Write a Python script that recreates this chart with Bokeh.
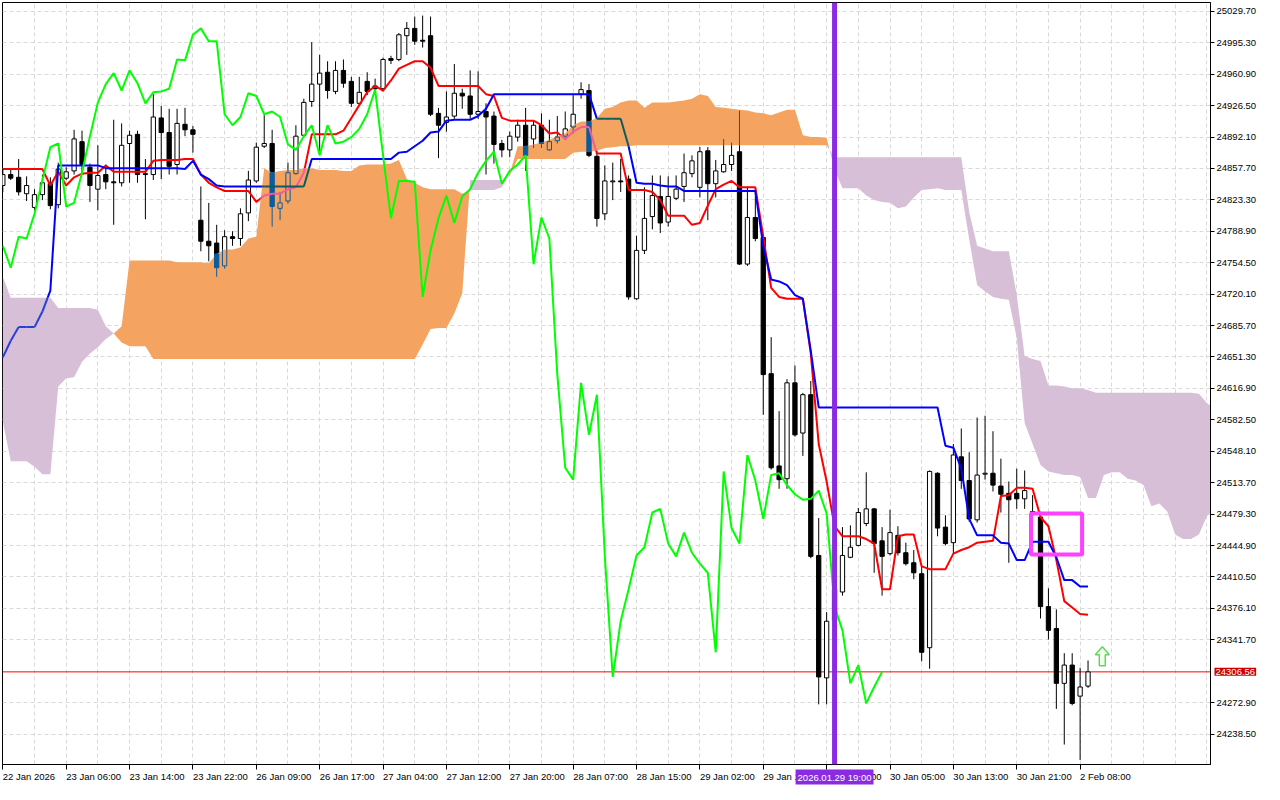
import numpy as np
from bokeh.plotting import figure
from bokeh.models import Range1d, FixedTicker, PrintfTickFormatter, Label, Span
from bokeh.embed import file_html
from bokeh.resources import INLINE

# ------------------------------------------------------------------ data
open_ = [24839, 24851, 24848, 24830, 24815, 24829, 24841, 24818, 24847, 24855,
         24887, 24859, 24835, 24851, 24843, 24842, 24885, 24895, 24852, 24851,
         24913, 24897, 24862, 24906, 24900, 24801, 24778, 24776, 24751, 24783,
         24781, 24809, 24844, 24882, 24885, 24814, 24822, 24852, 24894, 24931,
         24950, 24963, 24942, 24965, 24953, 24929, 24953, 24948, 24945, 24978,
         24977, 25003, 25011, 24998, 25003, 24918, 24908, 24915, 24940, 24937,
         24917, 24920, 24915, 24885, 24878, 24892, 24905, 24890, 24905, 24878,
         24888, 24893, 24903, 24939, 24943, 24871, 24808, 24843, 24844, 24846,
         24715, 24768, 24805, 24827, 24799, 24825, 24838, 24852, 24837, 24877,
         24841, 24854, 24862, 24876, 24753, 24804, 24782, 24633, 24532, 24518,
         24623, 24568, 24610, 24434, 24300, 24363, 24394, 24432, 24445, 24469,
         24485, 24450, 24436, 24456, 24437, 24426, 24414, 24333, 24524, 24465,
         24448, 24542, 24516, 24473, 24523, 24524, 24510, 24502, 24502, 24496,
         24482, 24476, 24378, 24354, 24294, 24314, 24280, 24291]
high = [24857, 24858, 24868, 24849, 24835, 24851, 24848, 24864, 24859, 24900,
        24899, 24863, 24883, 24862, 24911, 24907, 24899, 24899, 24868, 24939,
        24926, 24923, 24923, 24924, 24904, 24838, 24820, 24796, 24790, 24789,
        24814, 24855, 24886, 24916, 24900, 24832, 24864, 24905, 24934, 24996,
        24982, 24975, 24975, 24977, 24958, 24958, 24963, 24956, 24979, 24981,
        25006, 25018, 25024, 25025, 25024, 24924, 24942, 24972, 24945, 24965,
        24964, 24929, 24920, 24889, 24898, 24911, 24924, 24910, 24918, 24911,
        24915, 24920, 24938, 24952, 24950, 24877, 24861, 24864, 24868, 24850,
        24784, 24837, 24850, 24850, 24849, 24850, 24874, 24872, 24881, 24881,
        24867, 24890, 24886, 24921, 24838, 24837, 24786, 24673, 24592, 24627,
        24642, 24612, 24625, 24475, 24372, 24407, 24465, 24467, 24486, 24525,
        24486, 24465, 24484, 24466, 24448, 24440, 24423, 24527, 24525, 24478,
        24556, 24573, 24547, 24585, 24587, 24570, 24540, 24515, 24529, 24527,
        24500, 24482, 24398, 24375, 24327, 24327, 24311, 24319]
low = [24832, 24845, 24828, 24822, 24812, 24823, 24813, 24814, 24845, 24851,
       24851, 24821, 24812, 24835, 24796, 24838, 24842, 24842, 24802, 24845,
       24846, 24851, 24851, 24893, 24875, 24767, 24756, 24739, 24748, 24773,
       24773, 24800, 24842, 24880, 24794, 24801, 24819, 24851, 24892, 24925,
       24873, 24934, 24939, 24946, 24925, 24926, 24938, 24939, 24942, 24972,
       24975, 24982, 24993, 24990, 24915, 24869, 24898, 24912, 24923, 24912,
       24912, 24851, 24863, 24870, 24870, 24887, 24855, 24880, 24880, 24877,
       24885, 24889, 24896, 24934, 24870, 24794, 24801, 24823, 24832, 24714,
       24714, 24764, 24791, 24787, 24794, 24823, 24821, 24848, 24826, 24801,
       24826, 24853, 24855, 24752, 24751, 24778, 24588, 24528, 24507, 24507,
       24564, 24543, 24431, 24271, 24271, 24354, 24390, 24431, 24444, 24466,
       24415, 24390, 24434, 24434, 24423, 24408, 24318, 24310, 24455, 24445,
       24436, 24507, 24471, 24470, 24517, 24504, 24481, 24426, 24485, 24485,
       24477, 24365, 24342, 24266, 24227, 24270, 24210, 24289]
close_ = [24851, 24847, 24832, 24839, 24829, 24842, 24817, 24857, 24854, 24890,
          24862, 24839, 24850, 24843, 24842, 24883, 24894, 24851, 24851, 24914,
          24897, 24860, 24907, 24900, 24895, 24778, 24773, 24749, 24783, 24781,
          24808, 24845, 24881, 24885, 24816, 24820, 24853, 24893, 24930, 24950,
          24962, 24943, 24965, 24951, 24929, 24941, 24942, 24945, 24977, 24976,
          25004, 25011, 24997, 24997, 24917, 24905, 24914, 24940, 24937, 24917,
          24920, 24914, 24884, 24878, 24893, 24905, 24872, 24905, 24885, 24887,
          24892, 24901, 24917, 24944, 24872, 24803, 24844, 24844, 24843, 24717,
          24768, 24803, 24828, 24798, 24827, 24835, 24853, 24866, 24876, 24841,
          24855, 24862, 24872, 24753, 24804, 24781, 24632, 24530, 24517, 24623,
          24566, 24610, 24433, 24301, 24362, 24397, 24434, 24443, 24481, 24485,
          24447, 24433, 24459, 24437, 24425, 24415, 24328, 24526, 24464, 24447,
          24544, 24516, 24474, 24522, 24524, 24511, 24501, 24495, 24496, 24505,
          24480, 24378, 24352, 24294, 24314, 24272, 24290, 24306.56]

# Ichimoku lines (one value per bar)
tenkan = [24857, 24857, 24857, 24857, 24857, 24857, 24839, 24854, 24839, 24848,
          24852, 24853, 24853, 24861, 24854, 24854, 24854, 24854, 24854, 24866,
          24867, 24867, 24867, 24868, 24868, 24851, 24842, 24837, 24833, 24833,
          24833, 24833, 24821, 24828, 24830, 24830, 24835, 24837, 24853, 24895,
          24895, 24895, 24895, 24899, 24913, 24927, 24941, 24948, 24943, 24954,
          24967, 24971, 24975, 24975, 24968, 24948, 24948, 24948, 24948, 24948,
          24948, 24939, 24937, 24913, 24910, 24910, 24910, 24910, 24905, 24896,
          24897, 24890, 24898, 24903, 24903, 24874, 24874, 24874, 24874, 24834,
          24834, 24834, 24832, 24823, 24806, 24806, 24806, 24796, 24798, 24817,
          24835, 24840, 24844, 24837, 24837, 24837, 24783, 24727, 24717, 24715,
          24715, 24715, 24655, 24556, 24515, 24466, 24455, 24455, 24455, 24452,
          24447, 24397, 24397, 24455, 24457, 24457, 24422, 24419, 24419, 24419,
          24436, 24440, 24443, 24448, 24449, 24450, 24499, 24500, 24508, 24508,
          24507, 24476, 24466, 24429, 24384, 24377, 24370, 24369]
kijun = [24651, 24669, 24684, 24684, 24684, 24701, 24724, 24861, 24861, 24861,
         24861, 24861, 24861, 24858, 24858, 24858, 24858, 24858, 24858, 24858,
         24858, 24858, 24858, 24857, 24866, 24851, 24846, 24839, 24838, 24838,
         24838, 24838, 24838, 24838, 24838, 24838, 24838, 24838, 24838, 24868,
         24868, 24868, 24868, 24868, 24868, 24868, 24868, 24868, 24868, 24868,
         24875, 24876, 24882, 24888, 24897, 24898, 24910, 24911, 24911, 24911,
         24915, 24923, 24939, 24939, 24939, 24939, 24939, 24939, 24939, 24939,
         24939, 24939, 24939, 24939, 24939, 24912, 24912, 24912, 24912, 24882,
         24842, 24841, 24841, 24839, 24838, 24838, 24833, 24833, 24833, 24833,
         24833, 24833, 24833, 24833, 24833, 24833, 24773, 24736, 24734, 24730,
         24719, 24715, 24658, 24596, 24596, 24596, 24596, 24596, 24596, 24596,
         24596, 24596, 24596, 24596, 24596, 24596, 24596, 24596, 24596, 24554,
         24552, 24529, 24474, 24456, 24456, 24456, 24448, 24447, 24429, 24429,
         24449, 24449, 24449, 24432, 24407, 24407, 24400, 24400]
# Senkou spans as drawn (already displaced 26 bars ahead), bars 0..153
span_a = [24581, 24537, 24537, 24537, 24531, 24523, 24523, 24619, 24628, 24629,
          24646, 24655, 24662, 24671, 24677, 24685, 24757, 24757, 24757, 24757,
          24757, 24757, 24755, 24755, 24755, 24755, 24754, 24764, 24769, 24769,
          24771, 24781, 24783, 24858, 24853, 24855, 24856, 24856, 24858, 24858,
          24856, 24856, 24856, 24855, 24855, 24861, 24862, 24862, 24862, 24863,
          24867, 24846, 24842, 24837, 24835, 24835, 24835, 24835, 24830, 24834,
          24834, 24834, 24834, 24837, 24852, 24882, 24882, 24884, 24886, 24889,
          24893, 24896, 24905, 24909, 24909, 24913, 24923, 24925, 24930, 24932,
          24932, 24924, 24930, 24930, 24930, 24931, 24932, 24934, 24939, 24937,
          24925, 24924, 24923, 24922, 24921, 24919, 24918, 24916, 24919, 24922,
          24922, 24894, 24892, 24892, 24891, 24856, 24836, 24836, 24836, 24828,
          24823, 24821, 24820, 24814, 24816, 24826, 24834, 24835, 24836, 24834,
          24834, 24834, 24780, 24730, 24723, 24717, 24715, 24714, 24672, 24579,
          24556, 24533, 24526, 24524, 24522, 24522, 24520, 24497, 24497, 24522,
          24525, 24525, 24518, 24516, 24511, 24488, 24491, 24482, 24457, 24452,
          24452, 24457, 24477, 24485]
span_b = [24739, 24716, 24716, 24716, 24716, 24716, 24716, 24705, 24705, 24705,
          24705, 24705, 24703, 24685, 24677, 24667, 24663, 24663, 24663, 24649,
          24649, 24649, 24649, 24649, 24649, 24649, 24649, 24649, 24649, 24649,
          24649, 24649, 24649, 24649, 24649, 24649, 24649, 24649, 24649, 24649,
          24649, 24649, 24649, 24649, 24649, 24649, 24649, 24649, 24649, 24649,
          24649, 24649, 24649, 24665, 24682, 24683, 24683, 24699, 24721, 24845,
          24845, 24845, 24845, 24845, 24850, 24868, 24868, 24868, 24868, 24868,
          24868, 24868, 24875, 24876, 24876, 24877, 24880, 24881, 24882, 24882,
          24883, 24883, 24883, 24883, 24883, 24883, 24883, 24883, 24883, 24883,
          24883, 24883, 24883, 24883, 24883, 24883, 24883, 24883, 24883, 24883,
          24883, 24883, 24883, 24883, 24883, 24870, 24870, 24870, 24870, 24870,
          24870, 24870, 24870, 24870, 24870, 24870, 24870, 24870, 24870, 24870,
          24870, 24870, 24810, 24773, 24770, 24767, 24767, 24767, 24719, 24652,
          24649, 24647, 24620, 24620, 24619, 24617, 24617, 24615, 24612, 24612,
          24612, 24612, 24612, 24612, 24612, 24612, 24612, 24612, 24612, 24612,
          24612, 24611, 24601, 24594]
CHIKOU_SHIFT = 26   # chikou span = close plotted 26 bars back

time_label_bars = [0, 8, 16, 24, 32, 40, 48, 56, 64, 72, 80, 88, 96, 104, 112, 120, 128, 136]
time_labels = ["22 Jan 2026", "23 Jan 06:00", "23 Jan 14:00", "23 Jan 22:00", "26 Jan 09:00",
               "26 Jan 17:00", "27 Jan 04:00", "27 Jan 12:00", "27 Jan 20:00", "28 Jan 07:00",
               "28 Jan 15:00", "29 Jan 02:00", "29 Jan 10:00", "29 Jan 18:00", "30 Jan 05:00",
               "30 Jan 13:00", "30 Jan 21:00", "2 Feb 08:00"]
price_ticks = [25029.70, 24995.30, 24960.90, 24926.50, 24892.10, 24857.70, 24823.30, 24788.90,
               24754.50, 24720.10, 24685.70, 24651.30, 24616.90, 24582.50, 24548.10, 24513.70,
               24479.30, 24444.90, 24410.50, 24376.10, 24341.70, 24272.90, 24238.50]
grid_bars = [4, 8, 12, 16, 20, 24, 28, 32, 36, 40, 44, 48, 52, 56, 60, 64, 68, 72, 76, 80,
             84, 88, 92, 96, 100, 104, 108, 112, 116, 120, 124, 128, 132, 136, 140, 144, 148, 152]
bid_price = 24306.56
vline_bar = 105
vline_text = "2026.01.29 19:00"
box_left, box_right, box_bottom, box_top = 129.8, 136.25, 24435.0, 24480.0
arrow_bar, arrow_price = 138.8, 24334.0

# ------------------------------------------------------------------ style / layout
FRAME_W, FRAME_H = 1208, 762
X0, X1 = -0.04, 152.46
Y0, Y1 = 24205.15, 25039.35
FONT, FS = "Liberation Sans", "9.5px"
ORANGE, THISTLE = "#f4a460", "#d8bfd8"
HALF = 0.27


def xor_on(color, cloud):
    a = int(color[1:], 16)
    b = int(cloud[1:], 16) ^ 0xFFFFFF
    return "#%06x" % (a ^ b)


def lin_iv(g0, g1):
    if g0 >= 0 and g1 >= 0:
        return (0.0, 1.0)
    if g0 < 0 and g1 < 0:
        return None
    t = g0 / (g0 - g1)
    return (0.0, t) if g0 >= 0 else (t, 1.0)


p = figure(frame_width=FRAME_W, frame_height=FRAME_H,
           x_range=Range1d(X0, X1), y_range=Range1d(Y0, Y1),
           y_axis_location="right", output_backend="svg", toolbar_location=None,
           min_border_left=2, min_border_top=2, min_border_right=54, min_border_bottom=20,
           background_fill_color="white", border_fill_color="white")
p.outline_line_color = "black"
p.outline_line_width = 1

# axes
p.yaxis.ticker = FixedTicker(ticks=price_ticks)
p.yaxis.formatter = PrintfTickFormatter(format="%.2f")
p.yaxis.major_tick_out = 4
p.yaxis.major_tick_in = 0
p.yaxis.minor_tick_out = 0
p.yaxis.minor_tick_in = 0
p.yaxis.major_label_standoff = 2
p.yaxis.major_label_text_font = FONT
p.yaxis.major_label_text_font_size = FS
p.yaxis.major_label_text_color = "black"
p.yaxis.axis_line_color = "black"

p.xaxis.ticker = FixedTicker(ticks=time_label_bars)
p.xaxis.major_tick_out = 5
p.xaxis.major_tick_in = 0
p.xaxis.minor_tick_out = 0
p.xaxis.minor_tick_in = 0
p.xaxis.major_label_text_color = None
p.xaxis.major_label_standoff = 0
p.xaxis.axis_line_color = "black"

p.xgrid.ticker = FixedTicker(ticks=grid_bars)
p.ygrid.ticker = FixedTicker(ticks=price_ticks)
for g in (p.xgrid, p.ygrid):
    g.grid_line_color = "#d9d9d9"
    g.grid_line_dash = "4 3"
    g.grid_line_width = 1

# bid line (behind candles)
p.add_layout(Span(location=bid_price, dimension="width", line_color="#ff0000",
                  line_width=1, level="underlay"))

o = np.array(open_, float)
h = np.array(high, float)
l = np.array(low, float)
c = np.array(close_, float)
A = np.array(span_a, float)
B = np.array(span_b, float)
n = len(c)
idx = np.arange(n)
bull = c >= o
bb_ = np.minimum(o, c)
bt_ = np.maximum(o, c)

# candles
p.segment(x0=idx, y0=l, x1=idx, y1=h, line_color="black", line_width=1)
p.quad(left=idx - HALF, right=idx + HALF, bottom=bb_, top=bt_,
       fill_color=["white" if b else "black" for b in bull],
       line_color="black", line_width=1)

# tenkan / kijun
p.line(idx, tenkan, line_color="#ff0000", line_width=2)
p.line(idx, kijun, line_color="#0000ff", line_width=2)

# cloud
cx, ca, cb = [], [], []
for i in range(len(A)):
    cx.append(float(i)); ca.append(A[i]); cb.append(B[i])
    if i + 1 < len(A):
        d0, d1 = A[i] - B[i], A[i + 1] - B[i + 1]
        if d0 * d1 < 0:
            t = d0 / (d0 - d1)
            v = A[i] + t * (A[i + 1] - A[i])
            cx.append(i + t); ca.append(v); cb.append(v)
ca = np.array(ca); cb = np.array(cb)
ctop = np.maximum(ca, cb)
p.varea(x=cx, y1=cb, y2=ctop, fill_color=ORANGE)
p.varea(x=cx, y1=ca, y2=ctop, fill_color=THISTLE)

# parts of candles / lines that lie inside the cloud (MT4 xor look)
qd = dict(left=[], right=[], bottom=[], top=[], color=[])
sg = dict(x0=[], y0=[], x1=[], y1=[], color=[])
for i in range(n):
    lo, hi = min(A[i], B[i]), max(A[i], B[i])
    cc = ORANGE if A[i] >= B[i] else THISTLE
    k = xor_on("#000000", cc)
    bb, bt = bb_[i], bt_[i]
    for w0, w1 in ((l[i], bb), (bt, h[i])):
        s0, s1 = max(w0, lo), min(w1, hi)
        if s1 > s0:
            sg["x0"].append(i); sg["y0"].append(s0); sg["x1"].append(i); sg["y1"].append(s1)
            sg["color"].append(k)
    s0, s1 = max(bb, lo), min(bt, hi)
    if s1 > s0 or (s1 == s0 and lo <= bb <= hi):
        if not bull[i]:
            qd["left"].append(i - HALF); qd["right"].append(i + HALF)
            qd["bottom"].append(s0); qd["top"].append(s1); qd["color"].append(k)
        else:
            for xe in (i - HALF, i + HALF):
                sg["x0"].append(xe); sg["y0"].append(s0); sg["x1"].append(xe); sg["y1"].append(s1)
                sg["color"].append(k)
            for ye in (bb, bt):
                if lo <= ye <= hi:
                    sg["x0"].append(i - HALF); sg["y0"].append(ye)
                    sg["x1"].append(i + HALF); sg["y1"].append(ye); sg["color"].append(k)
p.quad(left="left", right="right", bottom="bottom", top="top", fill_color="color",
       line_color="color", line_width=1, source=qd)
p.segment(x0="x0", y0="y0", x1="x1", y1="y1", line_color="color", line_width=1, source=sg)


def line_pieces(L, base):
    d = dict(x0=[], y0=[], x1=[], y1=[], color=[])
    for i in range(len(L) - 1):
        for up, dn, cc in ((A, B, ORANGE), (B, A, THISTLE)):
            conds = [(L[i] - dn[i], L[i + 1] - dn[i + 1]),
                     (up[i] - L[i], up[i + 1] - L[i + 1]),
                     (up[i] - dn[i], up[i + 1] - dn[i + 1])]
            t0, t1, ok = 0.0, 1.0, True
            for g0, g1 in conds:
                iv = lin_iv(g0, g1)
                if iv is None:
                    ok = False
                    break
                t0, t1 = max(t0, iv[0]), min(t1, iv[1])
            if ok and t1 - t0 > 1e-6:
                d["x0"].append(i + t0); d["y0"].append(L[i] + t0 * (L[i + 1] - L[i]))
                d["x1"].append(i + t1); d["y1"].append(L[i] + t1 * (L[i + 1] - L[i]))
                d["color"].append(xor_on(base, cc))
    return d


p.segment(x0="x0", y0="y0", x1="x1", y1="y1", line_color="color", line_width=2,
          source=line_pieces(tenkan, "#ff0000"))
p.segment(x0="x0", y0="y0", x1="x1", y1="y1", line_color="color", line_width=2,
          source=line_pieces(kijun, "#0000ff"))

# chikou span
p.line(idx[CHIKOU_SHIFT:] - CHIKOU_SHIFT, c[CHIKOU_SHIFT:], line_color="#00ff00", line_width=2)

# rectangle object
p.quad(left=[box_left], right=[box_right], bottom=[box_bottom], top=[box_top],
       fill_alpha=0, line_color="#ff40ff", line_width=4)

# arrow object
ux = (X1 - X0) / FRAME_W
uy = (Y1 - Y0) / FRAME_H
shape = [(0, 0), (7, 8), (3, 8), (3, 19), (-3, 19), (-3, 8), (-7, 8)]
p.patch([arrow_bar + dx * ux for dx, dy in shape], [arrow_price - dy * uy for dx, dy in shape],
        fill_color="#f4fff0", line_color="#62d462", line_width=1.5)

# vertical line object
p.add_layout(Span(location=vline_bar, dimension="height", line_color="#8a2be2", line_width=5))

# labels outside the frame live in the side panels (so they are not clipped)
for b, t in zip(time_label_bars, time_labels):
    p.add_layout(Label(x=b, y=Y0, x_offset=0, y_offset=-6, text=t, text_align="left",
                       text_baseline="top", text_font=FONT, text_font_size=FS,
                       text_color="black"), "below")
p.add_layout(Label(x=vline_bar, y=Y0, y_offset=-5, text=vline_text, text_align="center",
                   text_baseline="top", text_font=FONT, text_font_size=FS, text_color="white",
                   background_fill_color="#8a2be2", padding=2), "below")
p.add_layout(Label(x=X1, y=bid_price, x_offset=4, text="%.2f" % bid_price, text_align="left",
                   text_baseline="middle", text_font=FONT, text_font_size=FS, text_color="white",
                   background_fill_color="#cc0000", padding=1), "right")

open("out.html", "w").write(file_html(p, INLINE))
